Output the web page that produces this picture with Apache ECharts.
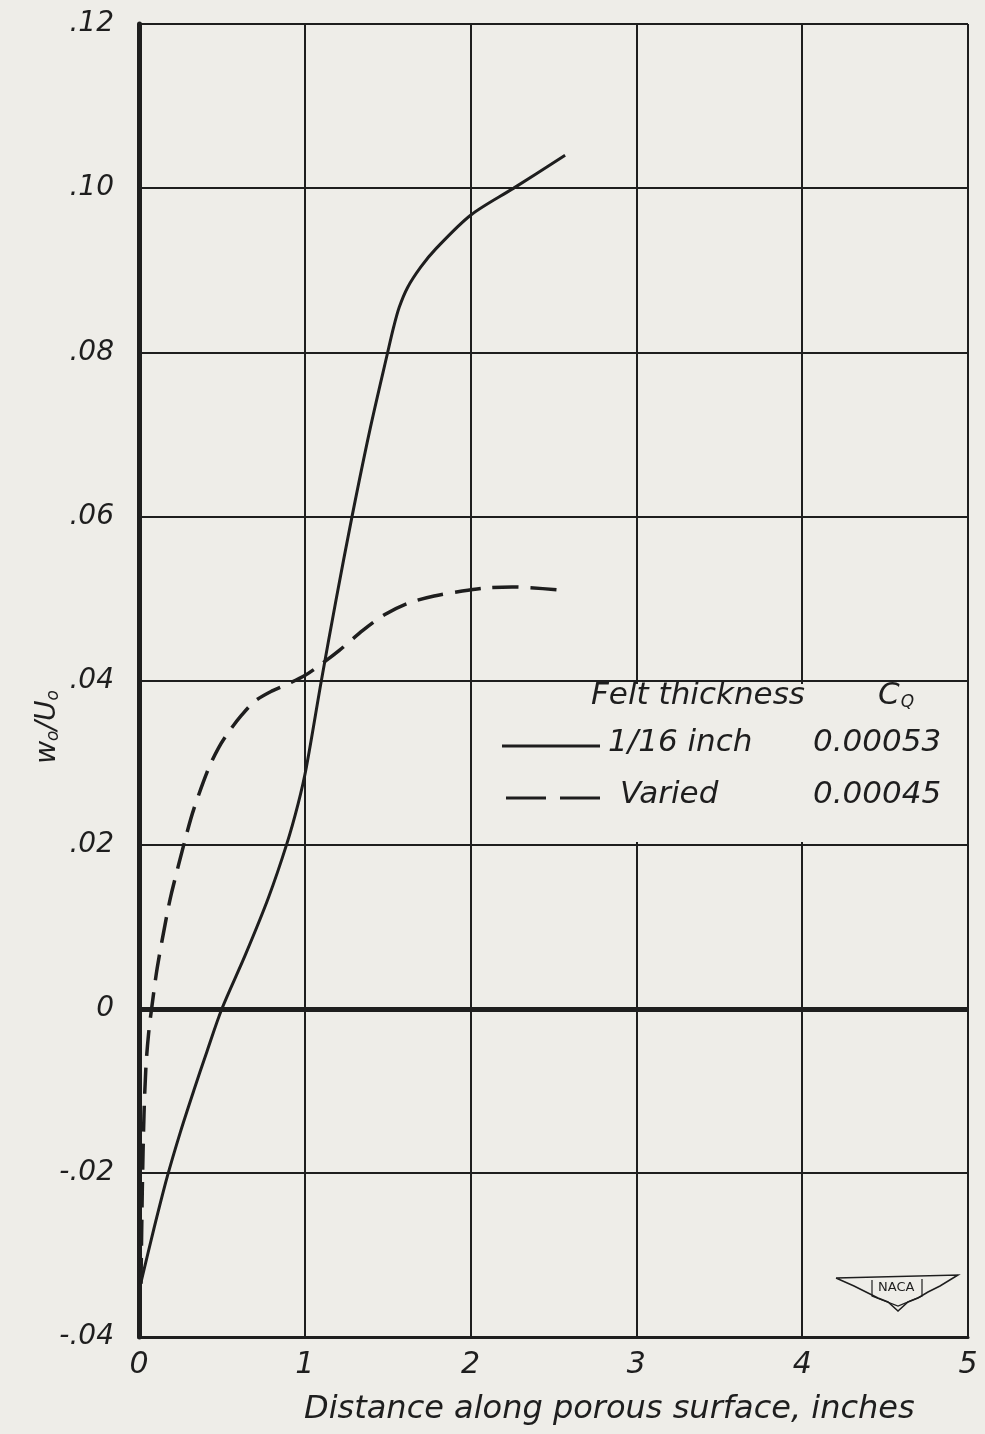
<!DOCTYPE html>
<html>
<head>
<meta charset="utf-8">
<script src="https://cdn.jsdelivr.net/npm/echarts@6/dist/echarts.min.js"></script>
<style>
html,body{margin:0;padding:0;background:#eeede8;}
#chart{width:985px;height:1434px;}
</style>
</head>
<body>
<div id="chart"></div>
<script>
// ---- data ----
const xTicks = [0, 1, 2, 3, 4, 5];
const xTickLabels = ['0', '1', '2', '3', '4', '5'];
const yTicks = [-0.04, -0.02, 0, 0.02, 0.04, 0.06, 0.08, 0.10, 0.12];
const yTickLabels = ['-.04', '-.02', '0', '.02', '.04', '.06', '.08', '.10', '.12'];

// Felt thickness 1/16 inch, C_Q = 0.00053 (solid)
const solidX = [0.01, 0.09, 0.17, 0.25, 0.33, 0.41, 0.50, 0.64, 0.78, 0.89, 0.96, 1.01, 1.10, 1.19, 1.285, 1.39, 1.50, 1.535, 1.57, 1.62, 1.70, 1.79, 2.00, 2.26, 2.57];
const solidY = [-0.0335, -0.0268, -0.0205, -0.0150, -0.0100, -0.0052, 0.000, 0.0065, 0.0135, 0.020, 0.025, 0.0295, 0.040, 0.050, 0.060, 0.0703, 0.080, 0.0830, 0.0855, 0.0879, 0.0904, 0.0926, 0.0967, 0.100, 0.104];

// Felt thickness varied, C_Q = 0.00045 (dashed)
const dashX = [0.012, 0.02, 0.03, 0.042, 0.058, 0.076, 0.11, 0.167, 0.196, 0.286, 0.33, 0.42, 0.48, 0.54, 0.62, 0.70, 0.80, 0.90, 1.00, 1.10, 1.21, 1.35, 1.48, 1.62, 1.78, 1.95, 2.10, 2.25, 2.55];
const dashY = [-0.0335, -0.022, -0.013, -0.007, -0.003, 0.000, 0.005, 0.0113, 0.0141, 0.0212, 0.0243, 0.0293, 0.0318, 0.0337, 0.0358, 0.0375, 0.0387, 0.0396, 0.0406, 0.0420, 0.0437, 0.0461, 0.0480, 0.0494, 0.0503, 0.0509, 0.0513, 0.0514, 0.0510];

const xAxisTitle = 'Distance along porous surface, inches';
const legendHeader = ['Felt thickness', 'C', 'Q'];
const legendNames = ['1/16 inch', 'Varied'];
const legendCq = ['0.00053', '0.00045'];
// ---------------

const ink = '#1e1e1e';
const bg = '#eeede8';
const fontFam = '"DejaVu Sans", "Liberation Sans", sans-serif';

function pairs(xs, ys){ return xs.map((x,i)=>[x, ys[i]]); }
function yLab(v){
  let best = 0, d = 1e9;
  yTicks.forEach((t,i)=>{ const dd = Math.abs(t - v); if (dd < d){ d = dd; best = i; } });
  return yTickLabels[best];
}
function xLab(v){
  const i = xTicks.indexOf(Math.round(v));
  return i >= 0 ? xTickLabels[i] : '';
}

const chart = echarts.init(document.getElementById('chart'));
chart.setOption({
  backgroundColor: bg,
  animation: false,
  grid: { left: 139, right: 17, top: 24, bottom: 97 },
  xAxis: {
    type: 'value', min: 0, max: 5, interval: 1,
    axisLine: { show: true, onZero: false, lineStyle: { color: ink, width: 3 } },
    axisTick: { show: false },
    splitLine: { show: true, lineStyle: { color: ink, width: 2 } },
    axisLabel: { formatter: xLab, color: ink, fontSize: 30, fontStyle: 'italic', fontFamily: fontFam, margin: 13 }
  },
  yAxis: {
    type: 'value', min: -0.04, max: 0.12, interval: 0.02,
    axisLine: { show: true, lineStyle: { color: ink, width: 5 } },
    axisTick: { show: false },
    splitLine: { show: true, lineStyle: { color: ink, width: 2 } },
    axisLabel: { formatter: yLab, color: ink, fontSize: 28, fontStyle: 'italic', fontFamily: fontFam, margin: 25 }
  },
  series: [
    {
      name: legendNames[0], type: 'line', data: pairs(solidX, solidY),
      smooth: 0.3, showSymbol: false, symbol: 'none',
      lineStyle: { color: ink, width: 3 },
      z: 5,
      markLine: {
        silent: true, symbol: 'none', label: { show: false },
        lineStyle: { color: ink, width: 5, type: 'solid' },
        data: [{ yAxis: 0 }]
      }
    },
    {
      name: legendNames[1], type: 'line', data: pairs(dashX, dashY),
      smooth: 0.3, showSymbol: false, symbol: 'none',
      lineStyle: { color: ink, width: 3.5, type: [26, 12] },
      z: 5
    }
  ],
  graphic: [
    { type: 'rect', shape: { x: 490, y: 684, width: 474, height: 158 }, style: { fill: bg }, z: 1 },
    { type: 'text', left: 591, top: 680, style: { text: legendHeader[0], font: 'italic 31px ' + fontFam, fill: ink }, z: 10 },
    { type: 'text', left: 878, top: 680, style: { text: '{a|' + legendHeader[1] + '}{b|' + legendHeader[2] + '}', rich: { a: { font: 'italic 31px ' + fontFam, fill: ink }, b: { font: 'italic 17px ' + fontFam, fill: ink, padding: [14,0,0,1] } } }, z: 10 },
    { type: 'line', shape: { x1: 502, y1: 746, x2: 600, y2: 746 }, style: { stroke: ink, lineWidth: 3 }, z: 10 },
    { type: 'text', left: 608, top: 727, style: { text: legendNames[0], font: 'italic 31px ' + fontFam, fill: ink }, z: 10 },
    { type: 'text', left: 813, top: 727, style: { text: legendCq[0], font: 'italic 31px ' + fontFam, fill: ink }, z: 10 },
    { type: 'line', shape: { x1: 506, y1: 798, x2: 600, y2: 798 }, style: { stroke: ink, lineWidth: 3, lineDash: [40, 14] }, z: 10 },
    { type: 'text', left: 620, top: 779, style: { text: legendNames[1], font: 'italic 31px ' + fontFam, fill: ink }, z: 10 },
    { type: 'text', left: 813, top: 779, style: { text: legendCq[1], font: 'italic 31px ' + fontFam, fill: ink }, z: 10 },
    // axis titles
    { type: 'text', left: 304, top: 1394, style: { text: xAxisTitle, font: 'italic 32px ' + fontFam, fill: ink }, z: 10 },
    { type: 'group', x: 48, y: 727, rotation: Math.PI / 2, z: 10, children: [
      { type: 'text', style: { text: '{m|w}{s|o}{m|/U}{s|o}', align: 'center', verticalAlign: 'middle',
        rich: { m: { font: 'italic 28px ' + fontFam, fill: ink }, s: { font: 'italic 17px ' + fontFam, fill: ink, padding: [12, 0, 0, 0] } } } }
    ]},
    // NACA wing mark
    { type: 'polyline', shape: { points: [[836,1278],[958,1275],[940,1286],[928,1292],[918,1298],[908,1302],[898,1311],[888,1302],[878,1298],[866,1292],[854,1286],[836,1278]] }, style: { fill: 'none', stroke: ink, lineWidth: 1.5 }, z: 10 },
    { type: 'polyline', shape: { points: [[872,1280],[872,1296],[898,1306],[922,1296],[922,1279]] }, style: { fill: 'none', stroke: ink, lineWidth: 1.2 }, z: 10 },
    { type: 'text', left: 878, top: 1281, style: { text: 'NACA', font: '13px ' + fontFam, fill: ink }, z: 11 }
  ]
});
</script>
</body>
</html>
